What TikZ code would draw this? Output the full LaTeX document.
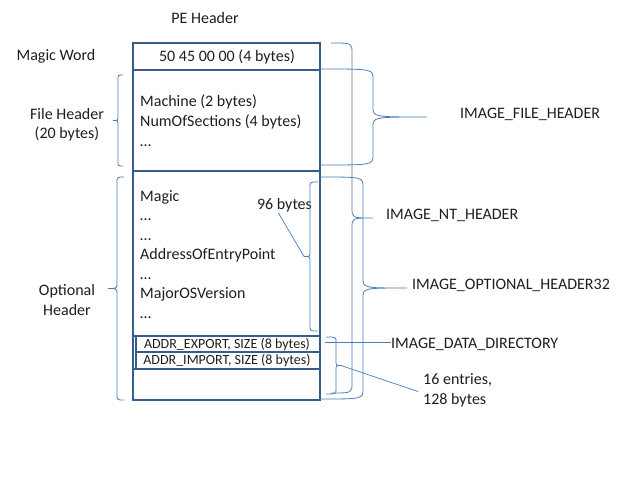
\documentclass[tikz,border=0pt]{standalone}
\usepackage{fontspec}
\setmainfont{Carlito}
\usepackage{xcolor}
\usepackage{tikz}
\usetikzlibrary{calc}

\definecolor{pebox}{HTML}{385D8A}
\definecolor{brcblue}{HTML}{4A7EBB}
\definecolor{txt}{HTML}{1E1E1E}

\tikzset{
    box/.style={draw=pebox, line width=2.1pt},
    brc/.style={draw=brcblue, line width=0.8pt},
    lead/.style={draw=brcblue, line width=0.7pt},
    lbl/.style={inner sep=0pt, text=txt, font=\fontsize{16}{19.5}\selectfont},
    small/.style={inner sep=0pt, text=txt, font=\fontsize{14}{16}\selectfont},
}

% brace: name, x of the ends, x of the spine, x of the tip, y top, y bottom, corner
\newcommand{\brce}[7]{%
    \pgfmathsetmacro{\bym}{(#5+#6)/2}
    \draw[brc] (#2,#5) .. controls (#3,#5) .. (#3,#5+#7) -- (#3,\bym-#7)
        .. controls (#3,\bym) .. (#4,\bym) .. controls (#3,\bym) .. (#3,\bym+#7)
        -- (#3,#6-#7) .. controls (#3,#6) .. (#2,#6);
    \coordinate (#1) at (#4,\bym);
}

\begin{document}
\begin{tikzpicture}[x=1pt, y=-1pt]

    \useasboundingbox (0,0) rectangle (640,480);

    % the PE header box with its rows
    \draw[box] (133,43) rectangle (320,400);
    \draw[box] (133,70) -- (320,70);
    \draw[box] (133,171) -- (320,171);
    \draw[box] (133,336) -- (320,336);
    \draw[box] (133,369) -- (320,369);
    \draw[box] (136,336) rectangle (320,352);
    \draw[box] (136,352) rectangle (320,369);

    \node[lbl] (title) at (205,18) {PE Header};
    \node[lbl] (magicword) at (56,56) {Magic Word};
    \node[lbl] (magicval) at (227,57) {50 45 00 00 (4 bytes)};

    % file header fields
    \foreach \y/\txt [count=\i] in {106/Machine (2 bytes), 126/NumOfSections (4 bytes), 146/\ldots} {
        \node[lbl, anchor=base west] (fh\i) at (140,\y) {\txt};
    }

    % optional header fields
    \foreach \y/\txt [count=\i] in {201/Magic, 220.5/\ldots, 240/\ldots, 259.5/AddressOfEntryPoint,
                                    279/\ldots, 298.5/MajorOSVersion, 318/\ldots} {
        \node[lbl, anchor=base west] (oh\i) at (140,\y) {\txt};
    }

    \node[small] (exportdir) at (227,344.5) {ADDR\_EXPORT, SIZE (8 bytes)};
    \node[small] (importdir) at (227,361) {ADDR\_IMPORT, SIZE (8 bytes)};

    % left side labels and braces
    \node[lbl, align=center] (fileheader) at (67,124.5) {File Header\\(20 bytes)};
    \node[lbl, align=center] (optheader) at (67,300) {Optional\\Header};
    \brce{fhtip}{123}{118}{113}{75}{166}{5}
    \brce{ohtip}{124}{117}{108}{177}{400}{6}

    % inner brace for the 96 bytes
    \node[lbl] (bytes96) at (284.5,205) {96 bytes};
    \brce{tip96}{318}{310}{304}{182}{331}{5}
    \draw[lead] (bytes96.south) ++(-6,1) coordinate (from96) -- (tip96);

    % right side braces
    \brce{nttip}{331}{352}{373}{43}{393}{10}
    \brce{filetip}{320}{373}{427}{69}{165}{10}
    \brce{opttip}{320}{363}{407}{177}{399}{10}
    \brce{ddtip}{326}{336}{341}{337}{394}{5}

    \node[lbl, anchor=west] (imgfile) at (460,114) {IMAGE\_FILE\_HEADER};
    \node[lbl, anchor=west] (imgnt) at (386,215) {IMAGE\_NT\_HEADER};
    \node[lbl, anchor=west] (imgopt) at (412,285) {IMAGE\_OPTIONAL\_HEADER32};
    \node[lbl, anchor=west] (imgdd) at (391,344) {IMAGE\_DATA\_DIRECTORY};
    \node[lbl, anchor=west, align=left] (entries) at (423,390.5) {16 entries,\\128 bytes};

    % leader lines
    \coordinate (ddstart) at (325,342);
    \draw[lead] (ddstart) -- (ddstart -| imgdd.west);
    \draw[lead] (ddtip) -- ($(entries.west)+(-5,1)$);

\end{tikzpicture}
\end{document}
